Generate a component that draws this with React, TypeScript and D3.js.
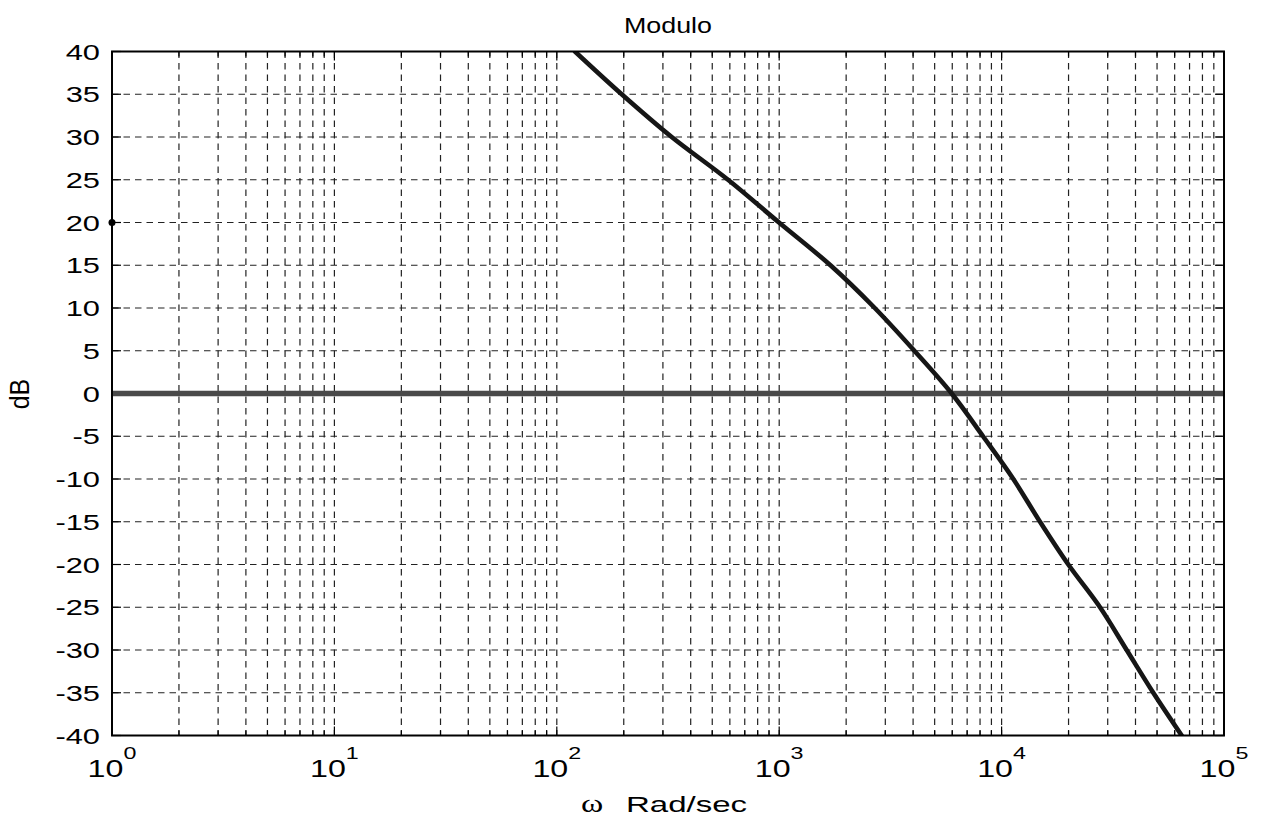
import React from 'react';
import * as d3 from 'd3';

// Bode magnitude plot of the open-loop response
const W = 1269;
const H = 822;
const M = { left: 112, right: 1224, top: 51.5, bottom: 735.5 };
const SX = 1.37; // horizontal stretch applied to tick labels
const FONT = 'Liberation Sans, Arial, Helvetica, sans-serif';

const decadeExponents = [0, 1, 2, 3, 4, 5];
const dbTicks = [40, 35, 30, 25, 20, 15, 10, 5, 0, -5, -10, -15, -20, -25, -30, -35, -40];

// Magnitude curve samples (rad/s, dB)
const omegaRadSec = [
  120.7, 195.8, 328.6, 588.6, 998, 1700, 2690, 4051, 5965,
  8250, 11290, 14880, 19950, 27700, 36510, 48080, 64540,
];
const magnitudeDb = [40, 35, 30, 25, 20, 15, 10, 5, 0, -5, -10, -15, -20, -25, -30, -35, -40];

// 0 dB reference line
const referenceOmega = [1, 1e5];
const referenceDb = [0, 0];

// single marker at the left edge
const markerOmega = [1];
const markerDb = [20];

export default function App() {
  const x = d3.scaleLog().domain([1, 1e5]).range([M.left, M.right]);
  const y = d3.scaleLinear().domain([-40, 40]).range([M.bottom, M.top]);
  const gridX = x.ticks();
  const isDecade = (v: number) => Math.abs(Math.log10(v) - Math.round(Math.log10(v))) < 1e-9;

  const curve = d3
    .line<number>()
    .x((_, i) => x(omegaRadSec[i]))
    .y((d) => y(d))
    .curve(d3.curveCatmullRom.alpha(0.5))(magnitudeDb) as string;

  const reference = d3
    .line<number>()
    .x((_, i) => x(referenceOmega[i]))
    .y((d) => y(d))(referenceDb) as string;

  const dash = '6.5,5';
  const gridColor = '#222';

  return (
    <svg
      width={W}
      height={H}
      viewBox={`0 0 ${W} ${H}`}
      style={{ position: 'absolute', left: 0, top: 0, background: '#fff' }}
    >
      <defs>
        <clipPath id="plotArea">
          <rect x={M.left} y={M.top} width={M.right - M.left} height={M.bottom - M.top} />
        </clipPath>
      </defs>
      <rect x={0} y={0} width={W} height={H} fill="#fff" />

      {/* grid */}
      <g stroke={gridColor} strokeWidth={1.2} strokeDasharray={dash} fill="none">
        {gridX
          .filter((v) => v > 1 && v < 1e5)
          .map((v) => (
            <line key={`gx${v}`} x1={x(v)} x2={x(v)} y1={M.top} y2={M.bottom} />
          ))}
        {dbTicks
          .filter((v) => v > -40 && v < 40)
          .map((v) => (
            <line key={`gy${v}`} x1={M.left} x2={M.right} y1={y(v)} y2={y(v)} />
          ))}
      </g>

      {/* ticks */}
      <g stroke="#000" strokeWidth={1.2}>
        {gridX.map((v) => {
          const len = isDecade(v) ? 9 : 5;
          return (
            <g key={`tx${v}`}>
              <line x1={x(v)} x2={x(v)} y1={M.bottom} y2={M.bottom - len} />
              <line x1={x(v)} x2={x(v)} y1={M.top} y2={M.top + len} />
            </g>
          );
        })}
        {dbTicks.map((v) => (
          <g key={`ty${v}`}>
            <line x1={M.left} x2={M.left + 9} y1={y(v)} y2={y(v)} />
            <line x1={M.right} x2={M.right - 9} y1={y(v)} y2={y(v)} />
          </g>
        ))}
      </g>

      {/* data */}
      <g clipPath="url(#plotArea)">
        <path d={reference} stroke="#4a4a4a" strokeWidth={5.5} fill="none" />
        <path
          d={curve}
          stroke="#161616"
          strokeWidth={4.6}
          fill="none"
          strokeLinejoin="round"
          strokeLinecap="round"
        />
      </g>
      {markerOmega.map((w, i) => (
        <circle key={`m${i}`} cx={x(w)} cy={y(markerDb[i])} r={3.5} fill="#000" />
      ))}

      {/* axes box */}
      <rect
        x={M.left}
        y={M.top}
        width={M.right - M.left}
        height={M.bottom - M.top}
        fill="none"
        stroke="#000"
        strokeWidth={2}
      />

      {/* y tick labels */}
      {dbTicks.map((v) => (
        <text
          key={`ly${v}`}
          transform={`translate(100,${y(v) + 8}) scale(${SX},1)`}
          textAnchor="end"
          fontSize={22.5}
          fontFamily={FONT}
        >
          {String(v)}
        </text>
      ))}

      {/* x tick labels */}
      {decadeExponents.map((e) => (
        <text
          key={`lx${e}`}
          transform={`translate(${x(Math.pow(10, e))},776.7) scale(${SX},1)`}
          textAnchor="middle"
          fontSize={23.5}
          fontFamily={FONT}
        >
          10
          <tspan dy={-18} fontSize={17}>
            {String(e)}
          </tspan>
        </text>
      ))}

      {/* title and axis labels */}
      <text
        transform={`translate(${(M.left + M.right) / 2},33) scale(1.22,1)`}
        textAnchor="middle"
        fontSize={22}
        fontFamily={FONT}
      >
        Modulo
      </text>
      <text
        transform="translate(581,811.7) scale(1.3,1)"
        textAnchor="start"
        fontSize={26}
        fontFamily="Liberation Serif, Times New Roman, serif"
      >
        ω
      </text>
      <text
        transform="translate(626,811.7) scale(1.5,1)"
        textAnchor="start"
        fontSize={22}
        fontFamily={FONT}
      >
        Rad/sec
      </text>
      <text
        transform="translate(29,394) rotate(-90) scale(1,1.1)"
        textAnchor="middle"
        fontSize={25}
        fontFamily={FONT}
      >
        dB
      </text>
    </svg>
  );
}
